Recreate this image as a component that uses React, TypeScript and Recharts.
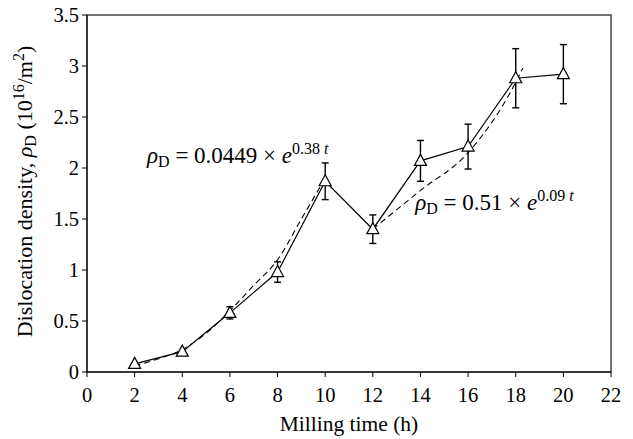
import React from "react";
import {
  ComposedChart,
  Line,
  XAxis,
  YAxis,
  ErrorBar,
  ReferenceArea,
  ReferenceDot,
} from "recharts";

// measured dislocation density (10^16 / m^2) vs milling time (h)
const hours = [2, 4, 6, 8, 10, 12, 14, 16, 18, 20];
const density = [0.08, 0.2, 0.58, 0.98, 1.87, 1.4, 2.07, 2.21, 2.88, 2.92];
const errors = [null, null, 0.06, 0.1, 0.18, 0.14, 0.2, 0.22, 0.29, 0.29];

// dashed fit curves
const fit1Hours = [2, 3, 4, 5, 6, 7, 8, 9, 10];
const fit1Values = [0.06, 0.13, 0.22, 0.38, 0.6, 0.85, 1.1, 1.5, 1.9];
const fit2Hours = [12, 14, 16, 18, 18.3];
const fit2Values = [1.4, 1.78, 2.15, 2.84, 2.98];

const xTicks = [0, 2, 4, 6, 8, 10, 12, 14, 16, 18, 20, 22];
const yTicks = [0, 0.5, 1, 1.5, 2, 2.5, 3, 3.5];

const data = hours.map((h, i) => ({ t: h, rho: density[i], err: errors[i] }));
const fit1 = fit1Hours.map((h, i) => ({ t: h, fit: fit1Values[i] }));
const fit2 = fit2Hours.map((h, i) => ({ t: h, fit: fit2Values[i] }));

const FONT = "Liberation Serif";

const Triangle = (p: any) => {
  const { cx, cy } = p;
  if (cx == null || cy == null) return null;
  return (
    <polygon
      key={`tri-${p.index}`}
      points={`${cx},${cy - 6.5} ${cx - 6},${cy + 4.5} ${cx + 6},${cy + 4.5}`}
      fill="#fff"
      stroke="#000"
      strokeWidth={1.2}
    />
  );
};

function Equation({ cx, cy, coef, rate }: any) {
  return (
    <text x={cx} y={cy} fill="#000" style={{ fontFamily: FONT, fontSize: 23 }}>
      <tspan fontStyle="italic">ρ</tspan>
      <tspan dy={4} fontSize={16}>D</tspan>
      <tspan dy={-4}>{` = ${coef} × `}</tspan>
      <tspan fontStyle="italic">e</tspan>
      <tspan dy={-9} fontSize={16}>{rate}</tspan>
      <tspan fontSize={16} fontStyle="italic">{" t"}</tspan>
    </text>
  );
}

const YLabel = ({ viewBox }: any) => {
  const x = viewBox.x + 10;
  const y = viewBox.y + viewBox.height / 2 - 2;
  return (
    <text
      transform={`translate(${x}, ${y}) rotate(-90)`}
      textAnchor="middle"
      fill="#000"
      style={{ fontFamily: FONT, fontSize: 22 }}
    >
      Dislocation density,{" "}
      <tspan fontStyle="italic">ρ</tspan>
      <tspan dy={4} fontSize={16}>D</tspan>
      <tspan dy={-4}> (10</tspan>
      <tspan dy={-8} fontSize={16}>16</tspan>
      <tspan dy={8}>/m</tspan>
      <tspan dy={-8} fontSize={16}>2</tspan>
      <tspan dy={8}>)</tspan>
    </text>
  );
};

const XLabel = ({ viewBox }: any) => (
  <text
    x={viewBox.x + viewBox.width / 2}
    y={431}
    textAnchor="middle"
    fill="#000"
    style={{ fontFamily: FONT, fontSize: 21.5 }}
  >
    Milling time (h)
  </text>
);

const tickStyle = { fontFamily: FONT, fontSize: 20.5, fill: "#000" };

export default function App() {
  return (
    <div
      style={{
        position: "absolute",
        left: 0,
        top: 0,
        background: "#fff",
        fontFamily: FONT,
      }}
    >
      <ComposedChart
        width={633}
        height={439}
        data={data}
        margin={{ top: 15, right: 22, left: 22, bottom: 17 }}
        style={{ fontFamily: FONT }}
      >
        <ReferenceArea
          x1={0}
          x2={22}
          y1={0}
          y2={3.5}
          fill="none"
          stroke="#444"
          strokeWidth={1.5}
          ifOverflow="visible"
        />
        <XAxis
          dataKey="t"
          type="number"
          domain={[0, 22]}
          ticks={xTicks}
          interval={0}
          allowDataOverflow
          height={50}
          tickSize={5}
          tickMargin={10}
          stroke="#000"
          tick={tickStyle}
          label={<XLabel />}
        />
        <YAxis
          type="number"
          domain={[0, 3.5]}
          ticks={yTicks}
          interval={0}
          width={65}
          tickSize={5}
          tickMargin={3}
          stroke="#000"
          tick={tickStyle}
          label={<YLabel />}
        />
        <Line
          data={fit1}
          dataKey="fit"
          type="monotone"
          stroke="#000"
          strokeWidth={1.1}
          strokeDasharray="6 4"
          dot={false}
          isAnimationActive={false}
        />
        <Line
          data={fit2}
          dataKey="fit"
          type="monotone"
          stroke="#000"
          strokeWidth={1.1}
          strokeDasharray="6 4"
          dot={false}
          isAnimationActive={false}
        />
        <Line
          dataKey="rho"
          type="linear"
          stroke="#000"
          strokeWidth={1.2}
          dot={Triangle}
          activeDot={false}
          isAnimationActive={false}
        >
          <ErrorBar
            dataKey="err"
            direction="y"
            width={3.5}
            stroke="#000"
            strokeWidth={1.4}
            isAnimationActive={false}
          />
        </Line>
        <ReferenceDot
          x={2.52}
          y={2.05}
          r={0}
          shape={(p: any) => (
            <Equation cx={p.cx} cy={p.cy} coef="0.0449" rate="0.38" />
          )}
        />
        <ReferenceDot
          x={13.78}
          y={1.59}
          r={0}
          shape={(p: any) => (
            <Equation cx={p.cx} cy={p.cy} coef="0.51" rate="0.09" />
          )}
        />
      </ComposedChart>
    </div>
  );
}
